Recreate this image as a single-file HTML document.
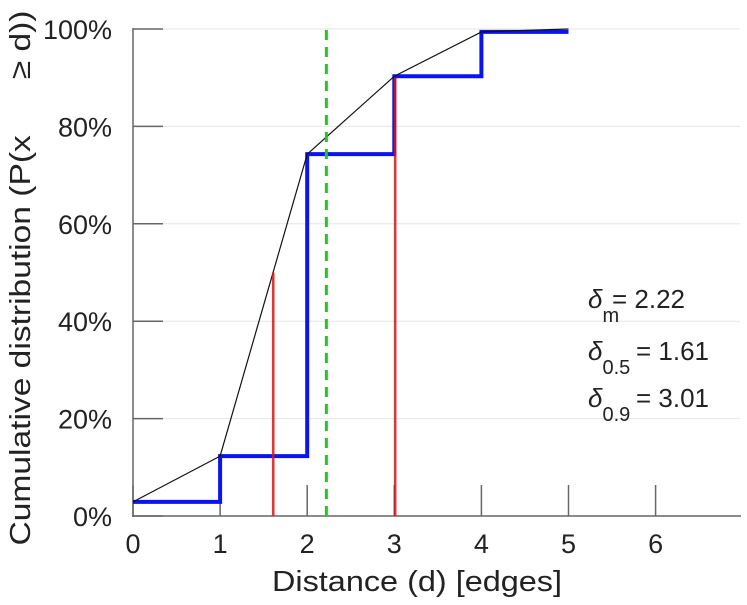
<!DOCTYPE html>
<html><head><meta charset="utf-8"><style>
body{margin:0;background:#fff}
svg text{font-family:"Liberation Sans",sans-serif;fill:#222}
</style></head><body>
<svg id="chart" width="747" height="600" xmlns="http://www.w3.org/2000/svg">
<g id="grid"></g>
<g id="axes"></g>
<g id="marks"></g>
<text x="417" y="591" font-size="29" text-anchor="middle" textLength="290" lengthAdjust="spacingAndGlyphs">Distance (d) [edges]</text>
<text transform="translate(30,278) rotate(-90)" font-size="29" text-anchor="middle" textLength="535" lengthAdjust="spacingAndGlyphs" xml:space="preserve">Cumulative distribution (P(x      ≥ d))</text>
<g font-size="26">
<text x="588" y="308"><tspan font-style="italic">δ</tspan><tspan dy="14" font-size="20">m</tspan><tspan dy="-14" x="612">= 2.22</tspan></text>
<text x="588" y="360"><tspan font-style="italic">δ</tspan><tspan dy="14" font-size="20">0.5</tspan><tspan dy="-14" x="636">= 1.61</tspan></text>
<text x="588" y="407"><tspan font-style="italic">δ</tspan><tspan dy="14" font-size="20">0.9</tspan><tspan dy="-14" x="636">= 3.01</tspan></text>
</g>
</svg>
<script>
const distances=[0,1,2,3,4,5];
const cdfValues=[2.9,12.3,74.3,90.3,99.4,99.4];
const lineValues=[2.9,12.3,74.3,90.3,99.4,100];
const xTicks=[0,1,2,3,4,5,6];
const yTicks=[0,20,40,60,80,100];
const quantiles=[[1.61,50],[3.01,90]];
const meanDist=2.22;
const NS="http://www.w3.org/2000/svg";
const X=v=>133+v*87.1, Y=v=>516-v*4.87;
function mk(p,t,a){const e=document.createElementNS(NS,t);for(const k in a)e.setAttribute(k,a[k]);p.appendChild(e);return e;}
const grid=document.getElementById('grid'),axes=document.getElementById('axes'),marks=document.getElementById('marks');
yTicks.forEach(v=>{
 if(v>0){const g=mk(grid,'line',{x1:133,x2:740,y1:Y(v),y2:Y(v),stroke:'#e6e6e6','stroke-width':1});
 }
 const t=mk(axes,'line',{x1:133,x2:163,y1:Y(v),y2:Y(v),stroke:'#666','stroke-width':1.5});
 
 const l=mk(axes,'text',{x:112,y:Y(v)+10,'font-size':27,'text-anchor':'end'});l.textContent=v+'%';
 
});
xTicks.forEach(v=>{
 const t=mk(axes,'line',{x1:X(v),x2:X(v),y1:516,y2:485,stroke:'#666','stroke-width':1.5});
 
 const l=mk(axes,'text',{x:X(v),y:553,'font-size':27,'text-anchor':'middle'});l.textContent=v;
 
});
let a=mk(axes,'line',{x1:133,x2:133,y1:28,y2:517,stroke:'#666','stroke-width':1.5});

a=mk(axes,'line',{x1:132,x2:741,y1:516,y2:516,stroke:'#666','stroke-width':1.5});

let d='M'+X(distances[0])+','+Y(cdfValues[0]);
for(let i=1;i<distances.length;i++){d+=' H'+X(distances[i])+' V'+Y(cdfValues[i]);}
let s=mk(marks,'path',{d:d,fill:'none',stroke:'#0a14f0','stroke-width':4});

let pts=distances.map((x,i)=>X(x)+','+Y(lineValues[i])).join(' ');
s=mk(marks,'polyline',{points:pts,fill:'none',stroke:'#111','stroke-width':1.2});

quantiles.forEach(q=>{
 const r=mk(marks,'line',{x1:X(q[0]),x2:X(q[0]),y1:516,y2:Y(q[1]),stroke:'#d01818','stroke-width':2.6,'stroke-opacity':0.85});
 
});
s=mk(marks,'line',{x1:X(meanDist),x2:X(meanDist),y1:30,y2:516,stroke:'#1ccc1c','stroke-width':3,'stroke-dasharray':'10,7'});

</script>
</body></html>
